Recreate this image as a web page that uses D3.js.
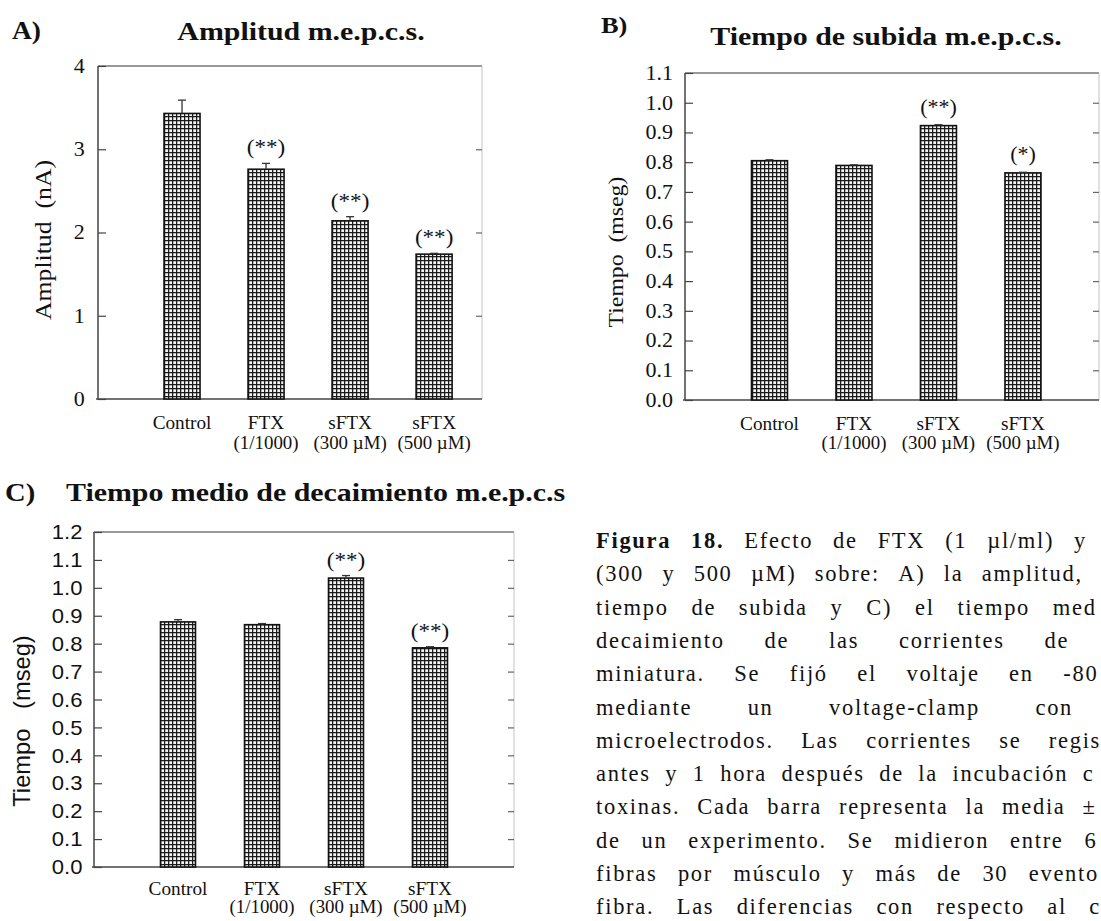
<!DOCTYPE html>
<html>
<head>
<meta charset="utf-8">
<script src="https://cdn.jsdelivr.net/npm/d3@7"></script>
<style>
body{margin:0;background:#fff;overflow:hidden;}
svg{display:block;}
</style>
</head>
<body>
<svg width="1101" height="921"></svg>
<script>
// categorias comunes a los tres paneles
var categorias = ["Control", "FTX", "sFTX", "sFTX"];
var subCategorias = ["", "(1/1000)", "(300 µM)", "(500 µM)"];
var posiciones = [1, 2, 3, 4];

// A) amplitud (nA)
var amplitudMedia = [3.43, 2.76, 2.14, 1.74];
var amplitudError = [0.16, 0.07, 0.05, 0.01];
var amplitudSignif = ["", "(**)", "(**)", "(**)"];
var amplitudTicks = [0, 1, 2, 3, 4];

// B) tiempo de subida (mseg)
var subidaMedia = [0.805, 0.789, 0.923, 0.764];
var subidaError = [0.003, 0.002, 0.003, 0.002];
var subidaSignif = ["", "", "(**)", "(*)"];
var subidaTicks = [0.0, 0.1, 0.2, 0.3, 0.4, 0.5, 0.6, 0.7, 0.8, 0.9, 1.0, 1.1];

// C) tiempo medio de decaimiento (mseg)
var decaimientoMedia = [0.878, 0.868, 1.035, 0.785];
var decaimientoError = [0.008, 0.004, 0.009, 0.004];
var decaimientoSignif = ["", "", "(**)", "(**)"];
var decaimientoTicks = [0.0, 0.1, 0.2, 0.3, 0.4, 0.5, 0.6, 0.7, 0.8, 0.9, 1.0, 1.1, 1.2];

var pieLineas = [
  "Figura 18. Efecto de FTX (1 µl/ml) y sFTX",
  "(300 y 500 µM) sobre: A) la amplitud, B) el",
  "tiempo de subida y C) el tiempo medio de",
  "decaimiento de las corrientes de placa",
  "miniatura. Se fijó el voltaje en -80 mV",
  "mediante un voltage-clamp con dos",
  "microelectrodos. Las corrientes se registraron",
  "antes y 1 hora después de la incubación con las",
  "toxinas. Cada barra representa la media ± ESM",
  "de un experimento. Se midieron entre 6 y 8",
  "fibras por músculo y más de 30 eventos por",
  "fibra. Las diferencias con respecto al control"
];

var serif = "'Liberation Serif','Times New Roman',serif";
var sans = "'Liberation Sans',Arial,sans-serif";
var ancho = 1101;

var svg = d3.select("svg");
svg.append("rect").attr("width",ancho).attr("height",921).attr("fill","#fff");

var defs = svg.append("defs");
var pat = defs.append("pattern")
  .attr("id","cuadricula")
  .attr("width",4).attr("height",4)
  .attr("patternUnits","userSpaceOnUse");
pat.append("rect").attr("width",4).attr("height",4).attr("fill","#f4f4f4");
pat.append("path").attr("d","M0 0.6H4M0.6 0V4").attr("stroke","#1a1a1a").attr("stroke-width",1.3);

// texto algo ensanchado, como en la figura escaneada
function texto(g, x, y, s, size, font, sx, anchor){
  return g.append("text")
    .attr("transform","translate("+x+","+y+") scale("+sx+",1)")
    .attr("text-anchor",anchor||"start")
    .attr("font-family",font).attr("font-size",size).attr("fill","#111")
    .attr("xml:space","preserve")
    .text(s);
}

function drawPanel(p){
  var g = svg.append("g");
  var x = d3.scaleLinear().domain(p.xDomain).range([p.left, p.right]);
  var y = d3.scaleLinear().domain([0, p.yMax]).range([p.bottom, p.top]);

  // marco
  g.append("line").attr("x1",p.left).attr("x2",p.right).attr("y1",p.top).attr("y2",p.top)
    .attr("stroke","#777").attr("stroke-width",1.3);
  g.append("line").attr("x1",p.right).attr("x2",p.right).attr("y1",p.top).attr("y2",p.bottom)
    .attr("stroke","#c4c4c4").attr("stroke-width",1);

  var yAxis = d3.axisLeft(y)
    .tickValues(p.ticks)
    .tickSize(-8)
    .tickPadding(p.pad)
    .tickFormat(p.fmt);
  var ya = g.append("g").attr("transform","translate("+p.left+",0)").call(yAxis);
  ya.select(".domain").remove();
  ya.selectAll(".tick line").attr("stroke","#444").attr("stroke-width",1.2);
  ya.selectAll(".tick text")
    .attr("font-family",p.tickFont).attr("font-size",p.tickSize).attr("fill","#111")
    .attr("transform","scale("+p.tickSx+",1)");

  var yRight = d3.axisRight(y).tickValues(p.ticks.slice(1, -1)).tickSize(-6).tickFormat("");
  var yr = g.append("g").attr("transform","translate("+p.right+",0)").call(yRight);
  yr.select(".domain").remove();
  yr.selectAll(".tick line").attr("stroke","#666").attr("stroke-width",1.2);

  g.append("line").attr("x1",p.left).attr("x2",p.left).attr("y1",p.top).attr("y2",p.bottom)
    .attr("stroke","#444").attr("stroke-width",1.5);
  g.append("line").attr("x1",p.left-2).attr("x2",p.right).attr("y1",p.bottom).attr("y2",p.bottom)
    .attr("stroke","#444").attr("stroke-width",1.6);

  // barras
  g.selectAll("rect.barra").data(p.values).enter().append("rect")
    .attr("class","barra")
    .attr("x",function(d,i){return x(posiciones[i])-p.bw/2;})
    .attr("y",function(d){return y(d);})
    .attr("width",p.bw)
    .attr("height",function(d){return y(0)-y(d);})
    .attr("fill","url(#cuadricula)")
    .attr("stroke","#111").attr("stroke-width",1.6);

  // barras de error y significacion
  p.values.forEach(function(d,i){
    var cx = x(posiciones[i]);
    var top = y(d + p.errors[i]);
    g.append("line").attr("x1",cx).attr("x2",cx).attr("y1",y(d)).attr("y2",top)
      .attr("stroke","#333").attr("stroke-width",1.3);
    g.append("line").attr("x1",cx-4).attr("x2",cx+4).attr("y1",top).attr("y2",top)
      .attr("stroke","#333").attr("stroke-width",1.3);
    if(p.signif[i]){
      texto(g, cx, top-p.sigGap, p.signif[i], p.sigSize, serif, 1.1, "middle");
    }
  });

  // etiquetas de categoria
  categorias.forEach(function(c,i){
    texto(g, x(posiciones[i]), p.bottom+p.catY, c, 18, serif, 1.07, "middle");
    if(subCategorias[i]){
      texto(g, x(posiciones[i]), p.bottom+p.catY+p.catDy, subCategorias[i], 18, serif, 1.05, "middle");
    }
  });

  // titulo eje y
  g.append("text")
    .attr("transform","translate("+p.labelX+","+p.labelY+") rotate(-90) scale("+p.labelSx+",1)")
    .attr("text-anchor","middle")
    .attr("font-family",p.labelFont).attr("font-size",p.labelSize).attr("fill","#111")
    .attr("xml:space","preserve")
    .text(p.label);

  // titulos
  texto(g, p.letterX, p.letterY, p.letter, p.letterSize, serif, 1.1).attr("font-weight","bold");
  texto(g, p.titleX, p.titleY, p.title, p.titleSize, serif, 1.15, p.titleAnchor).attr("font-weight","bold");
}

drawPanel({
  left:98, right:482, top:66, bottom:399, xDomain:[0,4.57], yMax:4,
  ticks:amplitudTicks, fmt:d3.format("d"), pad:12, tickFont:serif, tickSize:20, tickSx:1.1,
  values:amplitudMedia, errors:amplitudError, signif:amplitudSignif,
  bw:36, sigGap:9, sigSize:21, catY:30, catDy:20,
  label:"Amplitud  (nA)", labelX:51, labelY:240, labelFont:serif, labelSize:23, labelSx:1.12,
  letter:"A)", letterX:12, letterY:39, letterSize:25,
  title:"Amplitud m.e.p.c.s.", titleX:301, titleY:40, titleAnchor:"middle", titleSize:26
});

drawPanel({
  left:685, right:1099, top:73, bottom:400, xDomain:[0,4.9], yMax:1.1,
  ticks:subidaTicks, fmt:d3.format(".1f"), pad:11, tickFont:serif, tickSize:20, tickSx:1.1,
  values:subidaMedia, errors:subidaError, signif:subidaSignif,
  bw:36, sigGap:11, sigSize:20, catY:30, catDy:19,
  label:"Tiempo  (mseg)", labelX:623, labelY:252, labelFont:serif, labelSize:22, labelSx:1.08,
  letter:"B)", letterX:601, letterY:33, letterSize:24,
  title:"Tiempo de subida m.e.p.c.s.", titleX:886, titleY:45, titleAnchor:"middle", titleSize:26
});

drawPanel({
  left:94, right:514, top:532, bottom:867, xDomain:[0,5], yMax:1.2,
  ticks:decaimientoTicks, fmt:d3.format(".1f"), pad:11, tickFont:sans, tickSize:21, tickSx:1.05,
  values:decaimientoMedia, errors:decaimientoError, signif:decaimientoSignif,
  bw:35, sigGap:9, sigSize:21, catY:28, catDy:18,
  label:"Tiempo   (mseg)", labelX:30, labelY:721, labelFont:sans, labelSize:23, labelSx:1.03,
  letter:"C)", letterX:5, letterY:501, letterSize:26,
  title:"Tiempo medio de decaimiento m.e.p.c.s", titleX:66, titleY:501, titleAnchor:"start", titleSize:26
});

// pie de figura justificado, palabra por palabra; lo que no cabe en la pagina se corta
var pie = svg.append("g").attr("font-family",serif).attr("font-size",22.5).attr("fill","#111")
  .attr("letter-spacing","1.7px");
var pieX0 = 596, pieX1 = 1165, pieY0 = 548, pieDy = 33.3, limite = ancho + 1;
pieLineas.forEach(function(linea,li){
  var palabras = linea.split(" ");
  var nodos = palabras.map(function(w,wi){
    var t = pie.append("text").attr("y",pieY0+li*pieDy).text(w);
    if(li===0 && wi<2){ t.attr("font-weight","bold"); }
    return t;
  });
  var anchos = nodos.map(function(n){return n.node().getComputedTextLength();});
  var total = d3.sum(anchos);
  var hueco = (pieX1-pieX0-total)/(palabras.length-1);
  var xx = pieX0;
  nodos.forEach(function(n,i){
    n.attr("x",xx);
    var s = palabras[i];
    // el espaciado final de letra no cuenta como tinta
    while(s.length && xx + n.node().getComputedTextLength() - 1.7 > limite){
      s = s.slice(0,-1);
      n.text(s);
    }
    if(!s.length){ n.remove(); }
    xx += anchos[i] + hueco;
  });
});
</script>
</body>
</html>
